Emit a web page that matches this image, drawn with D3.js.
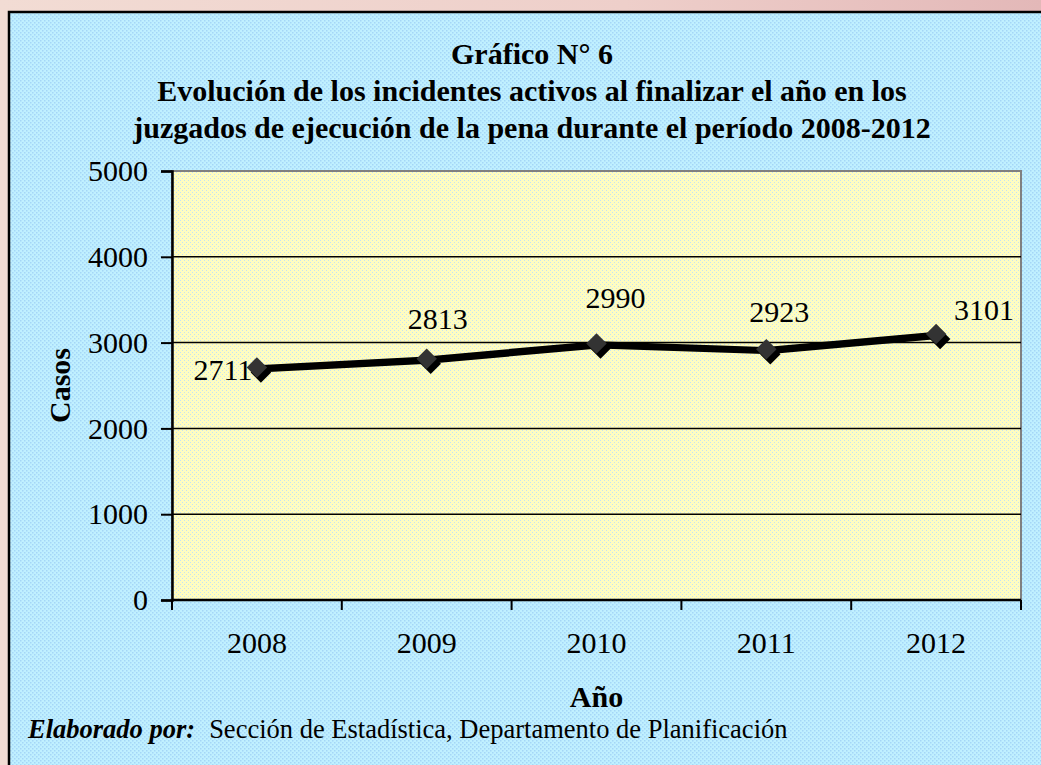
<!DOCTYPE html>
<html>
<head>
<meta charset="utf-8">
<script src="https://cdn.jsdelivr.net/npm/d3@7"></script>
<style>
  body { margin: 0; overflow: hidden; }
  svg { display: block; font-family: "Liberation Serif", "Times New Roman", serif; }
</style>
</head>
<body>
<div id="chart"></div>
<script>
// data
const years = ["2008", "2009", "2010", "2011", "2012"]
const casos = [2711, 2813, 2990, 2923, 3101]
const yTicks = [0, 1000, 2000, 3000, 4000, 5000]
const titleLines = [
  "Gráfico N° 6",
  "Evolución de los incidentes activos al finalizar el año en los",
  "juzgados de ejecución de la pena durante el período 2008-2012"
]

// hand placed data labels (dx, dy from the point), like in the original
const labelOffsets = [[-34, 13], [11, -30], [19, -35], [13, -27], [48, -14]]

const width = 1041, height = 765
const margin = { top: 171, right: 20, bottom: 165, left: 172 }

const svg = d3.select("#chart")
  .append("svg")
  .attr("width", width)
  .attr("height", height)

const defs = svg.append("defs")

// slide background behind the chart
const bg = defs.append("linearGradient").attr("id", "slideBg")
  .attr("x1", "0").attr("y1", "0").attr("x2", "1").attr("y2", "0")
bg.append("stop").attr("offset", "0").attr("stop-color", "#f2dcd4")
bg.append("stop").attr("offset", "0.6").attr("stop-color", "#eecfca")
bg.append("stop").attr("offset", "1").attr("stop-color", "#e3b8b8")

// dithered fills (blue panel, yellow plot area)
const dots = (id, base, dot, s) => {
  const p = defs.append("pattern").attr("id", id)
    .attr("width", 4).attr("height", 4)
    .attr("patternUnits", "userSpaceOnUse")
  p.append("rect").attr("width", 4).attr("height", 4).attr("fill", base)
  p.append("rect").attr("x", 0).attr("y", 0).attr("width", s).attr("height", s).attr("fill", dot)
  p.append("rect").attr("x", 2).attr("y", 2).attr("width", s).attr("height", s).attr("fill", dot)
}
dots("panelFill", "#c0f0ff", "#a5d6f7", 1.5)
dots("plotFill", "#fffdc0", "#c6e2f2", 1)

svg.append("rect")
  .attr("width", width).attr("height", height)
  .attr("fill", "url(#slideBg)")

svg.append("rect")
  .attr("x", 9).attr("y", 12)
  .attr("width", width + 20).attr("height", height + 20)
  .attr("fill", "url(#panelFill)")
  .attr("stroke", "#000")
  .attr("stroke-width", 2.5)

const x = d3.scaleBand()
  .domain(years)
  .range([margin.left, width - margin.right])

const y = d3.scaleLinear()
  .domain([0, 5000])
  .range([height - margin.bottom, margin.top])

// plot area
svg.append("rect")
  .attr("x", margin.left).attr("y", margin.top)
  .attr("width", x.range()[1] - margin.left)
  .attr("height", y(0) - margin.top)
  .attr("fill", "url(#plotFill)")
  .attr("stroke", "#808080")
  .attr("stroke-width", 2)

// gridlines
svg.append("g")
  .selectAll("line")
  .data(yTicks.filter(d => d > 0 && d < 5000))
  .join("line")
  .attr("x1", margin.left)
  .attr("x2", x.range()[1])
  .attr("y1", d => y(d))
  .attr("y2", d => y(d))
  .attr("stroke", "#000")
  .attr("stroke-width", 1.5)

// y axis
const yAxis = svg.append("g")
  .attr("transform", `translate(${margin.left},0)`)
  .call(d3.axisLeft(y).tickValues(yTicks).tickFormat(d3.format("d")).tickSize(11).tickPadding(13))
yAxis.select(".domain").attr("stroke-width", 2.5)
yAxis.selectAll(".tick line").attr("stroke-width", 2)
yAxis.selectAll("text")
  .attr("font-family", "Liberation Serif, Times New Roman, serif")
  .attr("font-size", 30)
  .attr("fill", "#000")
  .attr("dy", "0.32em")

// x axis: ticks sit between categories
const xAxis = svg.append("g")
  .attr("transform", `translate(0,${y(0)})`)
xAxis.append("line")
  .attr("x1", margin.left).attr("x2", x.range()[1])
  .attr("stroke", "#000").attr("stroke-width", 2.5)
xAxis.selectAll(".xtick")
  .data(years.map(d => x(d)).concat([x.range()[1]]))
  .join("line")
  .attr("class", "xtick")
  .attr("x1", d => d).attr("x2", d => d)
  .attr("y1", 0).attr("y2", 10)
  .attr("stroke", "#000").attr("stroke-width", 2)
xAxis.selectAll("text")
  .data(years)
  .join("text")
  .attr("x", d => x(d) + x.bandwidth() / 2)
  .attr("y", 53)
  .attr("text-anchor", "middle")
  .attr("font-size", 30)
  .text(d => d)

// series
const pts = years.map((d, i) => ({ year: d, value: casos[i] }))
const cx = d => x(d.year) + x.bandwidth() / 2

const line = d3.line()
  .x(cx)
  .y(d => y(d.value))

const series = svg.append("g")

series.append("path")
  .datum(pts)
  .attr("d", line)
  .attr("transform", "translate(2,3)")
  .attr("fill", "none")
  .attr("stroke", "#000")
  .attr("stroke-width", 4)

series.append("path")
  .datum(pts)
  .attr("d", line)
  .attr("fill", "none")
  .attr("stroke", "#000")
  .attr("stroke-width", 4.5)

const diamond = d3.symbol().type(d3.symbolSquare).size(210)

// marker shadows
series.selectAll(".shadow")
  .data(pts)
  .join("path")
  .attr("class", "shadow")
  .attr("d", diamond)
  .attr("transform", d => `translate(${cx(d) + 4},${y(d.value) + 5}) rotate(45)`)
  .attr("fill", "#000")

series.selectAll(".marker")
  .data(pts)
  .join("path")
  .attr("class", "marker")
  .attr("d", diamond)
  .attr("transform", d => `translate(${cx(d)},${y(d.value)}) rotate(45)`)
  .attr("fill", "#333")

// data labels
svg.append("g")
  .selectAll("text")
  .data(pts)
  .join("text")
  .attr("x", (d, i) => cx(d) + labelOffsets[i][0])
  .attr("y", (d, i) => y(d.value) + labelOffsets[i][1])
  .attr("text-anchor", "middle")
  .attr("font-size", 30)
  .text(d => d.value)

// titles
svg.append("g")
  .selectAll("text")
  .data(titleLines)
  .join("text")
  .attr("x", 532)
  .attr("y", (d, i) => 64 + i * 37)
  .attr("text-anchor", "middle")
  .attr("font-size", 30)
  .attr("font-weight", "bold")
  .text(d => d)

svg.append("text")
  .attr("transform", `translate(70,${(y(0) + margin.top) / 2}) rotate(-90)`)
  .attr("text-anchor", "middle")
  .attr("font-size", 30)
  .attr("font-weight", "bold")
  .text("Casos")

svg.append("text")
  .attr("x", (margin.left + x.range()[1]) / 2)
  .attr("y", 707)
  .attr("text-anchor", "middle")
  .attr("font-size", 30)
  .attr("font-weight", "bold")
  .text("Año")

const foot = svg.append("text")
  .attr("x", 28)
  .attr("y", 738)
  .attr("font-size", 26.5)
foot.append("tspan")
  .attr("font-weight", "bold")
  .attr("font-style", "italic")
  .text("Elaborado por:")
foot.append("tspan")
  .attr("dx", 14)
  .text("Sección de Estadística, Departamento de Planificación")
</script>
</body>
</html>
